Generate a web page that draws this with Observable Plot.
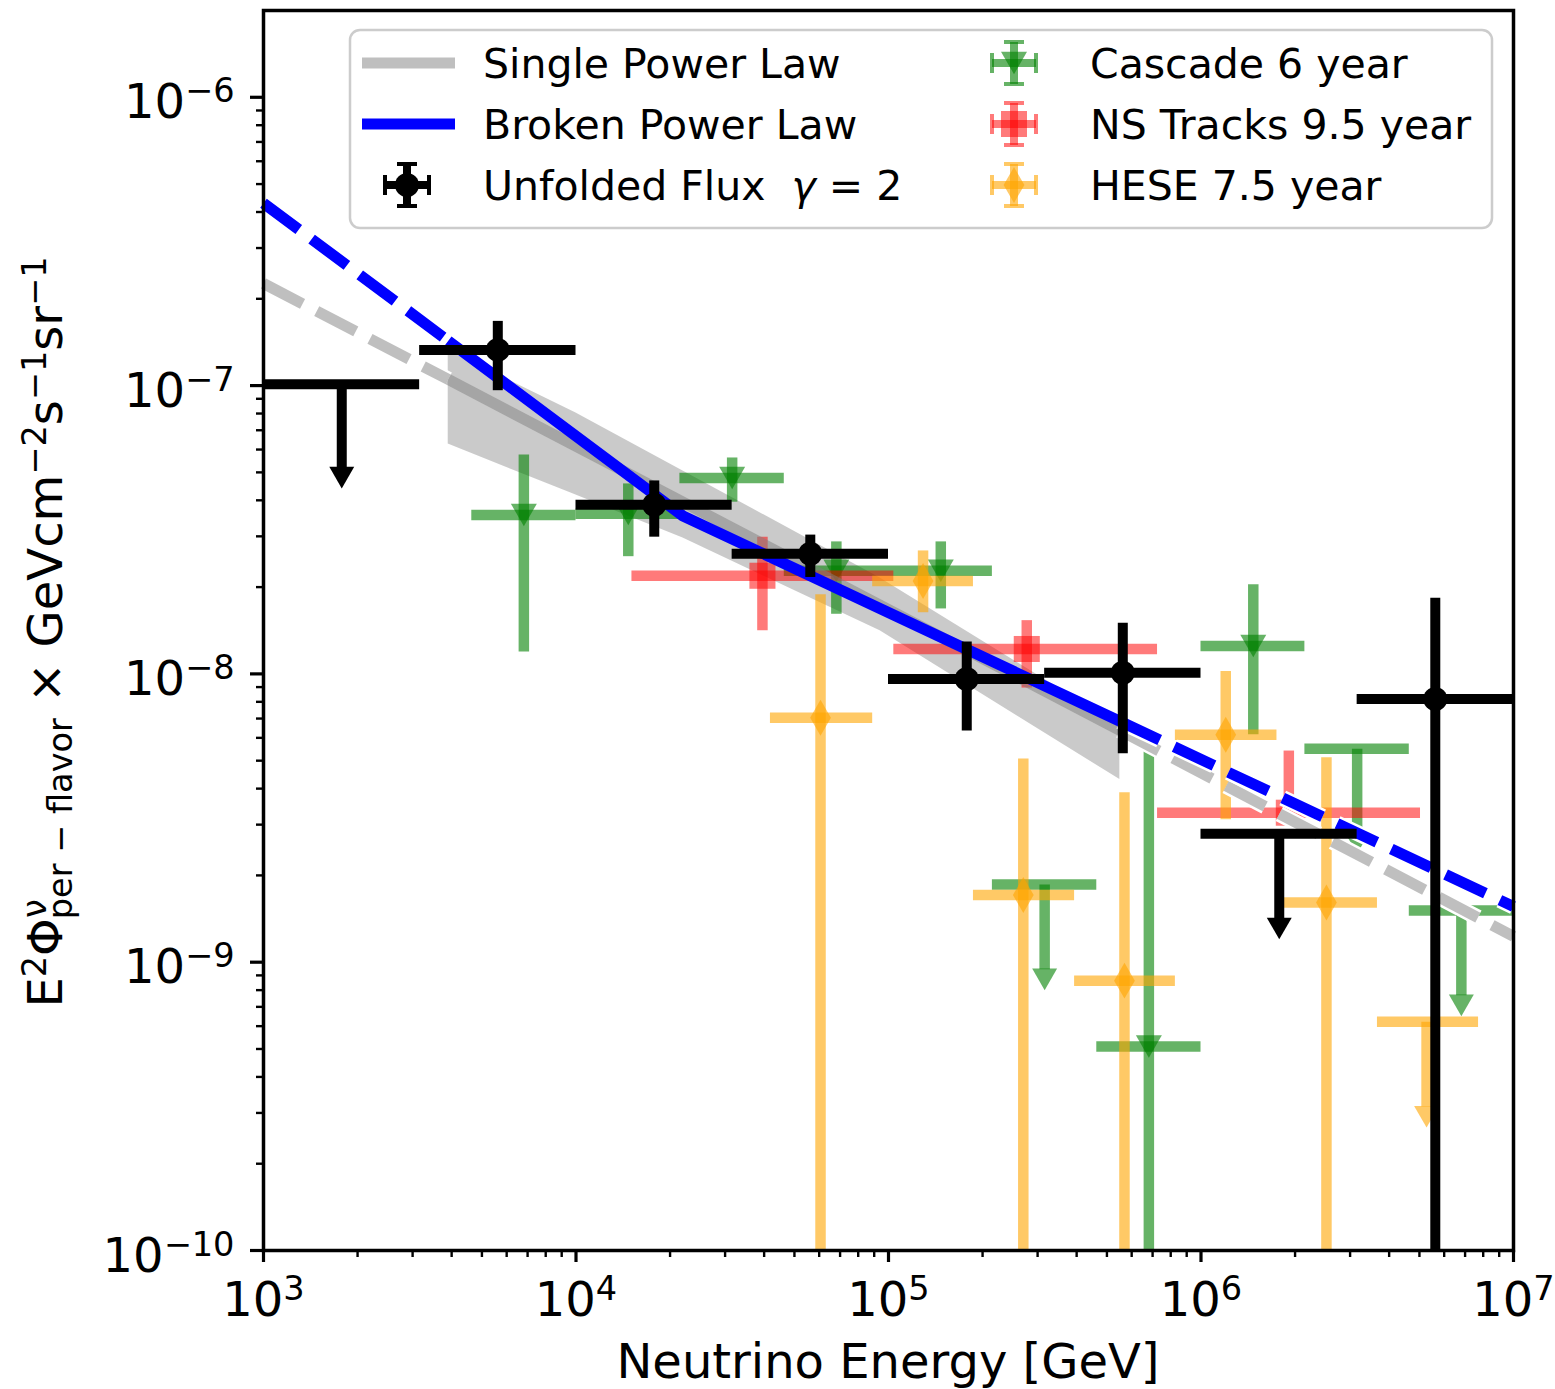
<!DOCTYPE html>
<html><head><meta charset="utf-8">
<script src="https://cdn.jsdelivr.net/npm/d3@7"></script>
<script src="https://cdn.jsdelivr.net/npm/@observablehq/plot@0.6"></script>
<style>body{margin:0;background:#fff;} svg{display:block;}</style>
</head><body><div id="chart"></div>
<script>
// ---------------- data ----------------
const xTicks = [1e3, 1e4, 1e5, 1e6, 1e7];
const yTicks = [1e-10, 1e-9, 1e-8, 1e-7, 1e-6];
const xDomain = [1e3, 1e7];
const yDomain = [1e-10, 2e-6];
const BELOW = 1e-11; // error bar continues below the plotted range

// Unfolded flux (gamma = 2), black; for upper limits "lo" is the arrow tip
const unfE    = [1.78e3, 5.62e3, 1.78e4, 5.62e4, 1.78e5, 5.62e5, 1.78e6, 5.62e6];
const unfElo  = [1e3, 3.16e3, 1e4, 3.16e4, 1e5, 3.16e5, 1e6, 3.16e6];
const unfEhi  = [3.16e3, 1e4, 3.16e4, 1e5, 3.16e5, 1e6, 3.16e6, 1e7];
const unfFlux = [1.01e-7, 1.33e-7, 3.86e-8, 2.61e-8, 9.6e-9, 1.01e-8, 2.79e-9, 8.18e-9];
const unfLo   = [4.4e-8, 9.6e-8, 2.98e-8, 2.16e-8, 6.34e-9, 5.28e-9, 1.2e-9, BELOW];
const unfHi   = [null, 1.67e-7, 4.67e-8, 3.03e-8, 1.29e-8, 1.5e-8, null, 1.83e-8];
const unfUL   = [true, false, false, false, false, false, true, false];

// Cascade 6 year, green
const casE    = [6.81e3, 1.47e4, 3.16e4, 6.81e4, 1.47e5, 3.16e5, 6.81e5, 1.47e6, 3.16e6, 6.81e6];
const casElo  = [4.64e3, 1e4, 2.15e4, 4.64e4, 1e5, 2.15e5, 4.64e5, 1e6, 2.15e6, 4.64e6];
const casEhi  = [1e4, 2.15e4, 4.64e4, 1e5, 2.15e5, 4.64e5, 1e6, 2.15e6, 4.64e6, 1e7];
const casFlux = [3.56e-8, 3.59e-8, 4.78e-8, 2.28e-8, 2.28e-8, 1.86e-9, 5.1e-10, 1.25e-8, 5.5e-9, 1.51e-9];
const casLo   = [1.19e-8, 2.55e-8, 3.94e-8, 1.61e-8, 1.68e-8, 8.0e-10, BELOW, 6.15e-9, 2.38e-9, 6.5e-10];
const casHi   = [5.74e-8, 4.56e-8, 5.61e-8, 2.87e-8, 2.87e-8, null, 5.4e-9, 2.04e-8, null, null];
const casUL   = [false, false, false, false, false, true, false, false, true, true];

// NS Tracks 9.5 year, red
const nsE    = [3.95e4, 2.77e5, 1.91e6];
const nsElo  = [1.51e4, 1.04e5, 7.26e5];
const nsEhi  = [1.04e5, 7.26e5, 5.04e6];
const nsFlux = [2.19e-8, 1.22e-8, 3.3e-9];
const nsLo   = [1.41e-8, 8.93e-9, 3.0e-9];
const nsHi   = [2.98e-8, 1.53e-8, 5.4e-9];
const nsUL   = [false, false, false];

// HESE 7.5 year, orange
const heE    = [6.06e4, 1.29e5, 2.70e5, 5.69e5, 1.20e6, 2.52e6, 5.27e6];
const heElo  = [4.19e4, 8.9e4, 1.87e5, 3.94e5, 8.28e5, 1.75e6, 3.67e6];
const heEhi  = [8.9e4, 1.87e5, 3.94e5, 8.28e5, 1.75e6, 3.67e6, 7.73e6];
const heFlux = [7.05e-9, 2.1e-8, 1.71e-9, 8.63e-10, 6.15e-9, 1.61e-9, 6.22e-10];
const heLo   = [BELOW, 1.63e-8, BELOW, BELOW, 3.12e-9, BELOW, 2.67e-10];
const heHi   = [1.88e-8, 2.67e-8, 5.07e-9, 3.87e-9, 1.02e-8, 5.12e-9, null];
const heUL   = [false, false, false, false, false, false, true];

// Fits: single power law (gray) and broken power law (blue)
const fitRange = [3.9e3, 5.5e5];              // solid inside, dashed outside
const splE = [1e3, 3.9e3, 5.5e5, 1e7];
const splF = [2.26e-7, 1.05e-7, 6.37e-9, 1.23e-9];
const bplE = [1e3, 3.9e3, 2.2e4, 5.5e5, 1e7];
const bplF = [4.29e-7, 1.43e-7, 3.53e-8, 6.85e-9, 1.56e-9];
// uncertainty band
const bandE  = [3.9e3, 1e4, 2.2e4, 9.4e4, 5.5e5];
const bandLo = [6.27e-8, 4.17e-8, 2.96e-8, 1.41e-8, 4.30e-9];
const bandHi = [1.32e-7, 8.04e-8, 5.06e-8, 2.15e-8, 6.61e-9];

// ---------------- build tables ----------------
const table = (E, Elo, Ehi, F, Lo, Hi, UL) =>
  E.map((e, i) => ({e, elo: Elo[i], ehi: Ehi[i], f: F[i], lo: Lo[i], hi: Hi[i], ul: UL[i]}));
const unfolded = table(unfE, unfElo, unfEhi, unfFlux, unfLo, unfHi, unfUL);
const cascade  = table(casE, casElo, casEhi, casFlux, casLo, casHi, casUL);
const tracks   = table(nsE, nsElo, nsEhi, nsFlux, nsLo, nsHi, nsUL);
const hese     = table(heE, heElo, heEhi, heFlux, heLo, heHi, heUL);
const band = bandE.map((e, i) => ({e, lo: bandLo[i], hi: bandHi[i]}));

const minorOf = (ticks, dom) => ticks.flatMap(t => d3.range(2, 10).map(m => m * t))
  .filter(v => v > dom[0] && v < dom[1]);
const minorX = minorOf(xTicks, xDomain);
const minorY = minorOf(yTicks, yDomain);

function errMarks(rows, o) {
  const pts = rows.filter(d => !d.ul), uls = rows.filter(d => d.ul);
  const st = {stroke: o.color, strokeOpacity: o.opacity, strokeWidth: o.width};
  return [
    Plot.ruleY(rows, {y: "f", x1: "elo", x2: "ehi", ...st, clip: true}),
    Plot.ruleX(pts, {x: "e", y1: "lo", y2: "hi", ...st, clip: true}),
    Plot.arrow(uls, {x: "e", y1: "f", y2: "lo", insetEnd: 21, headLength: 0, ...st, strokeLinecap: "butt", clip: true}),
    Plot.dot(uls, {x: "e", y: "lo", symbol: "triangle", rotate: 180, r: 9.26, dy: -14.4,
                   fill: o.color, fillOpacity: o.opacity, stroke: "none"}),
    Plot.dot(pts, {x: "e", y: "f", symbol: o.symbol, r: o.r, rotate: o.rotate || 0, dy: o.dy || 0,
                   fill: o.color, fillOpacity: o.opacity, stroke: "none"})
  ];
}

function fitLine(E, F, color, opacity) {
  const pts = E.map((e, i) => ({e, f: F[i]}));
  const left = pts.filter(d => d.e <= fitRange[0]);
  const mid = pts.filter(d => d.e >= fitRange[0] && d.e <= fitRange[1]);
  const right = pts.filter(d => d.e >= fitRange[1]);
  const dash = "44,16";
  const base = {x: "e", y: "f", strokeLinecap: "butt", strokeLinejoin: "miter"};
  return [
    ...[left, right].flatMap(seg => [
      Plot.line(seg, {...base, stroke: "white", strokeWidth: 16, strokeDasharray: dash}),
      Plot.line(seg, {...base, stroke: color, strokeOpacity: opacity, strokeWidth: 11, strokeDasharray: dash})
    ]),
    Plot.line(mid, {...base, stroke: color, strokeOpacity: opacity, strokeWidth: 11})
  ];
}

const fmt = d => "10^" + Math.round(Math.log10(d));

const svg = Plot.plot({
  width: 1555, height: 1389,
  marginTop: 10, marginBottom: 139, marginLeft: 263, marginRight: 42,
  style: {fontFamily: "DejaVu Sans", background: "white", color: "black"},
  x: {type: "log", domain: xDomain},
  y: {type: "log", domain: yDomain},
  marks: [
    Plot.areaY(band, {x: "e", y1: "lo", y2: "hi", fill: "gray", fillOpacity: 0.42}),
    ...errMarks(cascade, {color: "green", opacity: 0.6, width: 10.5, symbol: "triangle", r: 9.65, rotate: 180, dy: -3.7}),
    ...errMarks(tracks, {color: "red", opacity: 0.52, width: 10.5, symbol: "square", r: 14.7}),
    ...errMarks(hese, {color: "orange", opacity: 0.6, width: 10.5, symbol: "diamond", r: 10.9}),
    ...fitLine(splE, splF, "gray", 0.5),
    ...fitLine(bplE, bplF, "blue", 1),
    ...errMarks(unfolded, {color: "black", opacity: 1, width: 10, symbol: "circle", r: 12}),
    Plot.axisX({ticks: xTicks, tickSize: 12, tickPadding: 19, fontSize: 48, strokeWidth: 3.2, tickFormat: fmt, label: null}),
    Plot.axisX({ticks: minorX, tickSize: 7, strokeWidth: 2.4, tickFormat: () => "", label: null}),
    Plot.axisY({ticks: yTicks, tickSize: 13, tickPadding: 16, fontSize: 48, strokeWidth: 3.2, tickFormat: fmt, label: null}),
    Plot.axisY({ticks: minorY, tickSize: 7, strokeWidth: 2.4, tickFormat: () => "", label: null}),
    Plot.frame({stroke: "black", strokeWidth: 3.5})
  ]
});
document.getElementById("chart").appendChild(svg);

// ---------------- post-processing: math-style tick labels ----------------
const root = d3.select(svg);
root.selectAll("text").each(function () {
  const m = /^10\^(-?\d+)$/.exec(this.textContent);
  if (!m) return;
  const isY = m[1].startsWith("-");
  this.textContent = "";
  const s = d3.select(this);
  s.append("tspan").text("10");
  s.append("tspan").attr("dy", -16).attr("font-size", 33.6).text(m[1].replace("-", "\u2212"));
  if (isY) s.attr("y", 21);
});

// axis labels
const FF = "DejaVu Sans";
root.append("text").attr("x", 888).attr("y", 1378).attr("text-anchor", "middle")
  .attr("font-family", FF).attr("font-size", 48).attr("fill", "black").text("Neutrino Energy [GeV]");

const yl = root.append("text").attr("transform", "translate(62,632) rotate(-90)")
  .attr("text-anchor", "middle").attr("font-family", FF).attr("font-size", 48).attr("fill", "black")
  .style("white-space", "pre");
const parts = [
  ["E", 48, 0, 0], ["2", 33.6, -16, 0], ["\u03A6", 48, 16, 0], ["\u03BD", 33.6, -16, 0],
  ["per \u2212 flavor", 33.6, 26, -20], [" \u00D7 GeVcm", 48, -10, 0], ["\u22122", 33.6, -16, 0],
  ["s", 48, 16, 0], ["\u22121", 33.6, -16, 0], ["sr", 48, 16, 0], ["\u22121", 33.6, -16, 0]
];
for (const [t, fs, dy, dx] of parts) yl.append("tspan").attr("font-size", fs).attr("dy", dy).attr("dx", dx).text(t);

// ---------------- legend ----------------
const lg = root.append("g").attr("font-family", FF).attr("text-anchor", "start");
lg.append("rect").attr("x", 350).attr("y", 30).attr("width", 1142).attr("height", 198).attr("rx", 10)
  .attr("fill", "white").attr("fill-opacity", 0.8).attr("stroke", "#cccccc").attr("stroke-width", 2.5);
const rowY = [63, 124, 185];
lg.append("line").attr("x1", 362).attr("x2", 455).attr("y1", rowY[0]).attr("y2", rowY[0])
  .attr("stroke", "gray").attr("stroke-opacity", 0.5).attr("stroke-width", 11);
lg.append("line").attr("x1", 362).attr("x2", 455).attr("y1", rowY[1]).attr("y2", rowY[1])
  .attr("stroke", "blue").attr("stroke-width", 11);

function handle(cx, cy, color, op, symPath, rot, dyOff) {
  const g = lg.append("g").attr("stroke", color).attr("stroke-opacity", op);
  const L = (x1, y1, x2, y2, w) => g.append("line").attr("x1", x1).attr("y1", y1).attr("x2", x2).attr("y2", y2).attr("stroke-width", w);
  L(cx - 22, cy, cx + 22, cy, 8); L(cx, cy - 21, cx, cy + 21, 8);
  L(cx - 22, cy - 10, cx - 22, cy + 10, 4); L(cx + 22, cy - 10, cx + 22, cy + 10, 4);
  L(cx - 10, cy - 21, cx + 10, cy - 21, 4); L(cx - 10, cy + 21, cx + 10, cy + 21, 4);
  lg.append("path").attr("d", symPath).attr("fill", color).attr("fill-opacity", op)
    .attr("transform", `translate(${cx},${cy + (dyOff || 0)}) rotate(${rot || 0})`);
}
const A = r => Math.PI * r * r;
handle(407, rowY[2], "black", 1, d3.symbol(d3.symbolCircle, A(12))());
handle(1014, rowY[0], "green", 0.6, d3.symbol(d3.symbolTriangle, A(9.65))(), 180, -3.7);
handle(1014, rowY[1], "red", 0.52, d3.symbol(d3.symbolSquare, A(14.7))());
handle(1014, rowY[2], "orange", 0.6, d3.symbol(d3.symbolDiamond, A(10.9))());

const T = (x, y) => lg.append("text").attr("x", x).attr("y", y).attr("dy", "0.36em")
  .attr("text-anchor", "start").attr("font-size", 41).attr("fill", "black").style("white-space", "pre");
T(483, rowY[0]).text("Single Power Law");
T(483, rowY[1]).text("Broken Power Law");
const t3 = T(483, rowY[2]);
t3.append("tspan").text("Unfolded Flux  ");
t3.append("tspan").attr("font-style", "italic").text("\u03B3");
t3.append("tspan").text(" = 2");
T(1090, rowY[0]).text("Cascade 6 year");
T(1090, rowY[1]).text("NS Tracks 9.5 year");
T(1090, rowY[2]).text("HESE 7.5 year");
</script>
</body></html>
